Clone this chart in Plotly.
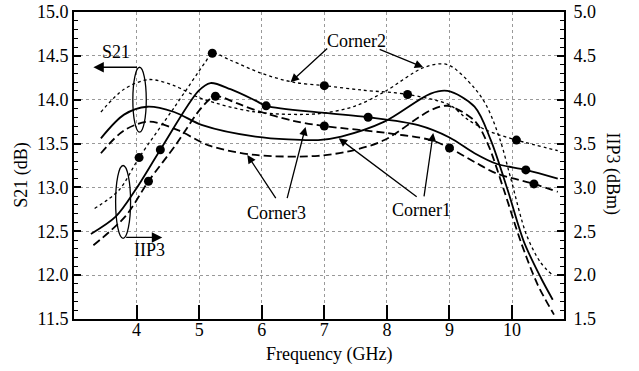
import plotly.graph_objects as go

FONT = "Liberation Serif"

# ---------------- data ----------------
# S21 (dB), left axis
s21_c2_x = [3.43, 3.8, 4.2, 4.6, 5.05, 5.9, 6.9, 7.5, 7.96, 8.6, 8.97, 9.39, 9.6, 9.81, 9.98, 10.23, 10.45, 10.63]
s21_c2_y = [13.86, 14.12, 14.23, 14.16, 14.01, 13.86, 13.84, 13.93, 14.09, 14.37, 14.40, 14.14, 13.92, 13.54, 13.10, 12.46, 12.15, 12.01]

s21_c1_x = [3.43, 3.8, 4.17, 4.6, 5.05, 5.9, 6.9, 7.27, 7.96, 8.7, 8.97, 9.4, 9.66, 9.93, 10.19, 10.46, 10.65]
s21_c1_y = [13.56, 13.83, 13.92, 13.86, 13.71, 13.58, 13.54, 13.58, 13.75, 14.07, 14.10, 13.92, 13.54, 12.97, 12.38, 11.97, 11.72]

s21_c3_x = [3.43, 3.8, 4.2, 4.67, 5.15, 5.9, 6.9, 7.5, 7.96, 8.7, 8.97, 9.4, 9.61, 9.87, 10.14, 10.41, 10.67]
s21_c3_y = [13.39, 13.65, 13.75, 13.65, 13.48, 13.37, 13.36, 13.43, 13.54, 13.88, 13.93, 13.76, 13.50, 12.97, 12.38, 11.89, 11.55]

# IIP3 (dBm), right axis
iip3_c2_x = [3.33, 3.72, 4.04, 4.6, 5.1, 5.21, 5.5, 6.0, 6.5, 7.0, 7.6, 8.33, 9.0, 9.3, 9.6, 10.07, 10.73]
iip3_c2_y = [2.76, 2.97, 3.34, 3.91, 4.43, 4.53, 4.45, 4.30, 4.20, 4.16, 4.11, 4.06, 3.94, 3.77, 3.65, 3.54, 3.42]
iip3_c2_mx = [4.04, 5.21, 7.0, 8.33, 10.07]
iip3_c2_my = [3.34, 4.53, 4.16, 4.06, 3.54]

iip3_c1_x = [3.27, 3.67, 3.98, 4.38, 4.99, 5.18, 5.5, 5.9, 6.07, 7.0, 7.7, 8.5, 9.0, 9.4, 9.75, 10.22, 10.73]
iip3_c1_y = [2.47, 2.67, 2.97, 3.43, 4.10, 4.19, 4.12, 3.99, 3.93, 3.85, 3.80, 3.71, 3.57, 3.39, 3.27, 3.20, 3.10]
iip3_c1_mx = [4.38, 6.07, 7.7, 10.22]
iip3_c1_my = [3.43, 3.93, 3.80, 3.20]

iip3_c3_x = [3.31, 3.82, 4.19, 4.62, 5.05, 5.26, 5.6, 5.9, 6.5, 7.0, 8.0, 8.7, 9.0, 9.4, 9.75, 10.35, 10.73]
iip3_c3_y = [2.34, 2.67, 3.07, 3.48, 3.92, 4.04, 3.96, 3.88, 3.76, 3.70, 3.62, 3.54, 3.45, 3.29, 3.16, 3.04, 2.95]
iip3_c3_mx = [4.19, 5.26, 7.0, 9.0, 10.35]
iip3_c3_my = [3.07, 4.04, 3.70, 3.45, 3.04]

x_ticks = [4, 5, 6, 7, 8, 9, 10]
left_ticks = [11.5, 12.0, 12.5, 13.0, 13.5, 14.0, 14.5, 15.0]
right_ticks = [1.5, 2.0, 2.5, 3.0, 3.5, 4.0, 4.5, 5.0]

# ---------------- styles ----------------
styles = {
    "c2": dict(color="black", width=1.3, dash="dot"),
    "c1": dict(color="black", width=1.8, dash="solid"),
    "c3": dict(color="black", width=1.8, dash="8px,4px"),
}

fig = go.Figure()

for x, y, st in [(s21_c2_x, s21_c2_y, "c2"), (s21_c1_x, s21_c1_y, "c1"), (s21_c3_x, s21_c3_y, "c3")]:
    fig.add_trace(go.Scatter(x=x, y=y, mode="lines", line=dict(shape="spline", smoothing=0.9, **styles[st]),
                             showlegend=False, yaxis="y"))

for x, y, mx, my, st in [(iip3_c2_x, iip3_c2_y, iip3_c2_mx, iip3_c2_my, "c2"),
                         (iip3_c1_x, iip3_c1_y, iip3_c1_mx, iip3_c1_my, "c1"),
                         (iip3_c3_x, iip3_c3_y, iip3_c3_mx, iip3_c3_my, "c3")]:
    fig.add_trace(go.Scatter(x=x, y=y, mode="lines", line=dict(shape="spline", smoothing=0.9, **styles[st]),
                             showlegend=False, yaxis="y2"))
    fig.add_trace(go.Scatter(x=mx, y=my, mode="markers", marker=dict(color="black", size=9),
                             showlegend=False, yaxis="y2"))

# ---------------- annotations ----------------
tfont = dict(family=FONT, size=18, color="black")
ann = []

def arrow(tip, tail, size=1.3):
    ann.append(dict(x=tip[0], y=tip[1], ax=tail[0], ay=tail[1], xref="x", yref="y", axref="x", ayref="y",
                    text="", showarrow=True, arrowhead=2, arrowsize=size, arrowwidth=1.3,
                    arrowcolor="black", standoff=0))

def label(x, y, t):
    ann.append(dict(x=x, y=y, xref="x", yref="y", text=t, showarrow=False, font=tfont,
                    xanchor="center", yanchor="middle"))

label(7.51, 14.67, "Corner2")
arrow((6.46, 14.20), (7.07, 14.60))
arrow((8.58, 14.37), (7.86, 14.58))

label(6.23, 12.71, "Corner3")
arrow((5.77, 13.37), (6.24, 12.86))
arrow((6.70, 13.69), (6.40, 12.86))

label(8.56, 12.74, "Corner1")
arrow((7.23, 13.56), (8.50, 12.88))
arrow((8.74, 13.62), (8.59, 12.88))

label(3.67, 14.54, "S21")
arrow((3.31, 14.37), (4.03, 14.37), size=1.6)
label(4.21, 12.29, "IIP3")
arrow((4.41, 12.43), (3.81, 12.43), size=1.6)

# axis titles
ann.append(dict(x=-0.106, y=0.47, xref="paper", yref="paper", text="S21 (dB)", textangle=-90,
                showarrow=False, font=tfont, xanchor="center", yanchor="middle"))
ann.append(dict(x=1.1, y=0.474, xref="paper", yref="paper", text="IIP3 (dBm)", textangle=90,
                showarrow=False, font=tfont, xanchor="center", yanchor="middle"))
ann.append(dict(x=0.52, y=-0.117, xref="paper", yref="paper", text="Frequency (GHz)",
                showarrow=False, font=tfont, xanchor="center", yanchor="middle"))

shapes = [
    dict(type="circle", xref="x", yref="y", x0=3.94, x1=4.155, y0=13.63, y1=14.37,
         line=dict(color="black", width=1.3)),
    dict(type="circle", xref="x", yref="y", x0=3.665, x1=3.904, y0=12.42, y1=13.25,
         line=dict(color="black", width=1.3)),
]

grid = dict(showgrid=True, gridcolor="#999999", gridwidth=1, griddash="dot")

fig.update_layout(
    width=639, height=371,
    margin=dict(l=74, r=75, t=12, b=52, autoexpand=False),
    paper_bgcolor="white", plot_bgcolor="white",
    font=tfont,
    annotations=ann, shapes=shapes,
    xaxis=dict(range=[3.0, 10.83], tickvals=x_ticks, ticktext=[str(v) for v in x_ticks],
               ticks="inside", ticklen=14, tickwidth=2, tickcolor="black",
               showline=True, linecolor="black", linewidth=2, mirror=True,
               zeroline=False, tickfont=tfont, automargin=False, ticklabelstandoff=-7, **grid),
    yaxis=dict(range=[11.5, 15.0], tickvals=left_ticks, ticktext=[f"{v:.1f}" for v in left_ticks],
               ticks="inside", ticklen=7, tickwidth=1.5, tickcolor="black",
               minor=dict(ticks="inside", dtick=0.1, ticklen=4, tickcolor="black", tickwidth=1.2, showgrid=False),
               showline=True, linecolor="black", linewidth=2, automargin=False,
               zeroline=False, tickfont=tfont, **grid),
    yaxis2=dict(range=[1.5, 5.0], tickvals=right_ticks, ticktext=[f"{v:.1f}" for v in right_ticks],
                overlaying="y", side="right",
                ticks="inside", ticklen=7, tickwidth=1.5, tickcolor="black",
                minor=dict(ticks="inside", dtick=0.1, ticklen=4, tickcolor="black", tickwidth=1.2, showgrid=False),
                showline=True, linecolor="black", linewidth=2, showgrid=False, automargin=False,
                zeroline=False, tickfont=tfont, ticklabelstandoff=4),
)

fig.write_html("out.html")
